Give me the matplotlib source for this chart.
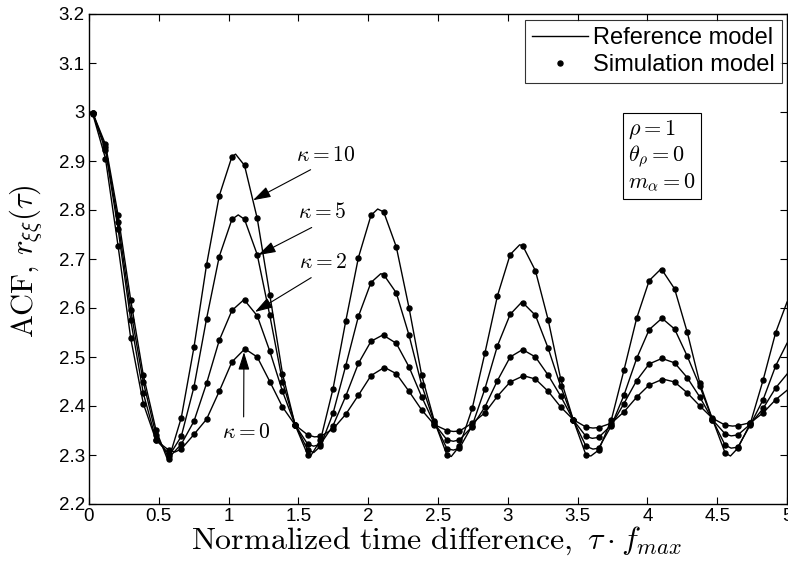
import numpy as np
import matplotlib
matplotlib.use("Agg")
import matplotlib.pyplot as plt
from matplotlib.lines import Line2D

plt.rcParams['mathtext.fontset'] = 'cm'
plt.rcParams['font.family'] = ['Liberation Sans', 'DejaVu Sans']

# ---------------- data ----------------
tau_sim = [0.027, 0.118, 0.208, 0.299, 0.389, 0.480, 0.571, 0.661, 0.752, 0.842,
           0.933, 1.024, 1.114, 1.205, 1.295, 1.386, 1.477, 1.567, 1.658, 1.748,
           1.839, 1.930, 2.020, 2.111, 2.201, 2.292, 2.383, 2.473, 2.564, 2.654,
           2.745, 2.836, 2.926, 3.017, 3.107, 3.198, 3.289, 3.379, 3.470, 3.560,
           3.651, 3.742, 3.832, 3.923, 4.013, 4.104, 4.195, 4.285, 4.376, 4.466,
           4.557, 4.648, 4.738, 4.829, 4.919]

sim_k0 = [2.996, 2.905, 2.727, 2.538, 2.405, 2.330, 2.310, 2.312, 2.342, 2.373,
          2.430, 2.490, 2.516, 2.500, 2.450, 2.398, 2.361, 2.341, 2.338, 2.353,
          2.383, 2.422, 2.462, 2.478, 2.466, 2.430, 2.392, 2.362, 2.350, 2.349,
          2.365, 2.386, 2.420, 2.449, 2.461, 2.455, 2.430, 2.398, 2.372, 2.357,
          2.356, 2.365, 2.388, 2.418, 2.443, 2.454, 2.449, 2.427, 2.400, 2.375,
          2.361, 2.360, 2.366, 2.386, 2.413]
sim_k2 = [2.997, 2.922, 2.762, 2.575, 2.426, 2.331, 2.303, 2.322, 2.369, 2.446,
          2.534, 2.595, 2.616, 2.584, 2.512, 2.430, 2.361, 2.322, 2.322, 2.360,
          2.420, 2.487, 2.532, 2.544, 2.528, 2.480, 2.419, 2.364, 2.331, 2.331,
          2.358, 2.398, 2.452, 2.500, 2.515, 2.500, 2.463, 2.420, 2.371, 2.338,
          2.336, 2.361, 2.405, 2.452, 2.486, 2.497, 2.488, 2.458, 2.418, 2.372,
          2.343, 2.341, 2.363, 2.395, 2.437]
sim_k5 = [2.998, 2.928, 2.776, 2.595, 2.449, 2.341, 2.297, 2.338, 2.439, 2.578,
          2.705, 2.781, 2.781, 2.709, 2.585, 2.450, 2.362, 2.310, 2.318, 2.385,
          2.482, 2.583, 2.652, 2.668, 2.631, 2.545, 2.443, 2.367, 2.313, 2.314,
          2.360, 2.435, 2.523, 2.587, 2.611, 2.585, 2.518, 2.440, 2.371, 2.318,
          2.314, 2.360, 2.422, 2.497, 2.556, 2.579, 2.557, 2.502, 2.440, 2.372,
          2.320, 2.316, 2.362, 2.413, 2.482]
sim_k10 = [2.998, 2.934, 2.790, 2.616, 2.463, 2.351, 2.291, 2.376, 2.520, 2.688,
           2.829, 2.909, 2.891, 2.783, 2.627, 2.466, 2.361, 2.300, 2.330, 2.435,
           2.573, 2.703, 2.789, 2.796, 2.725, 2.601, 2.463, 2.370, 2.300, 2.318,
           2.395, 2.508, 2.625, 2.709, 2.727, 2.676, 2.576, 2.455, 2.371, 2.300,
           2.310, 2.372, 2.473, 2.579, 2.656, 2.678, 2.639, 2.551, 2.446, 2.373,
           2.304, 2.314, 2.365, 2.453, 2.550]

# extra reference-model points (ends, peaks and troughs)
tau_ext_k0 = [0.0, 0.615, 1.115, 1.615, 2.115, 2.610, 3.110, 3.610, 4.110, 4.610, 5.0]
ext_k0 = [3.0, 2.306, 2.517, 2.337, 2.479, 2.348, 2.462, 2.355, 2.455, 2.359, 2.432]
tau_ext_k2 = [0.0, 0.590, 1.110, 1.610, 2.105, 2.610, 3.105, 3.605, 4.105, 4.600, 5.0]
ext_k2 = [3.0, 2.300, 2.617, 2.318, 2.545, 2.328, 2.515, 2.334, 2.497, 2.339, 2.465]
tau_ext_k5 = [0.0, 0.570, 1.069, 1.610, 2.090, 2.610, 3.100, 3.610, 4.105, 4.600, 5.0]
ext_k5 = [3.0, 2.296, 2.790, 2.305, 2.670, 2.310, 2.612, 2.312, 2.579, 2.314, 2.528]
tau_ext_k10 = [0.0, 0.565, 1.050, 1.585, 2.068, 2.595, 3.085, 3.595, 4.095, 4.595, 5.0]
ext_k10 = [3.0, 2.289, 2.914, 2.297, 2.802, 2.297, 2.729, 2.298, 2.679, 2.298, 2.612]

kappa_labels = [r'$\kappa=10$', r'$\kappa=5$', r'$\kappa=2$', r'$\kappa=0$']
arrow_heads = [(1.175, 2.820), (1.211, 2.708), (1.189, 2.592), (1.110, 2.510)]
label_pos = [(1.698, 2.912), (1.669, 2.794), (1.676, 2.692), (1.125, 2.345)]

xticks = [0, 0.5, 1, 1.5, 2, 2.5, 3, 3.5, 4, 4.5, 5]
xticklabels = ['0', '0.5', '1', '1.5', '2', '2.5', '3', '3.5', '4', '4.5', '5']
yticks = [2.2, 2.3, 2.4, 2.5, 2.6, 2.7, 2.8, 2.9, 3.0, 3.1, 3.2]
yticklabels = ['2.2', '2.3', '2.4', '2.5', '2.6', '2.7', '2.8', '2.9', '3', '3.1', '3.2']

# ---------------- figure ----------------
fig = plt.figure(figsize=(7.88, 5.62), dpi=100)
ax = fig.add_axes([89/788, 58/562, 698/788, 490/562])

curves = [(sim_k0, tau_ext_k0, ext_k0), (sim_k2, tau_ext_k2, ext_k2),
          (sim_k5, tau_ext_k5, ext_k5), (sim_k10, tau_ext_k10, ext_k10)]
for sim, te, ve in curves:
    t = np.array(tau_sim + te)
    v = np.array(sim + ve)
    order = np.argsort(t)
    ax.plot(t[order], v[order], color='black', lw=1.0, zorder=2)
    ax.plot(tau_sim, sim, linestyle='none', marker='o', ms=3.6, color='black',
            zorder=3)

ax.set_xlim(0, 5)
ax.set_ylim(2.2, 3.2)
ax.set_xticks(xticks)
ax.set_xticklabels(xticklabels)
ax.set_yticks(yticks)
ax.set_yticklabels(yticklabels)
ax.tick_params(direction='in', top=True, right=True, length=5, width=0.8,
               labelsize=13.5, pad=3)
for s in ax.spines.values():
    s.set_linewidth(1.0)

fig.text(437/788, 1 - 541/562,
         r'$\mathrm{Normalized\ time\ difference},\ \tau\cdot f_{max}$',
         fontsize=23, ha='center', va='center')
fig.text(26/788, 1 - 261/562, r'$\mathrm{ACF},\, r_{\xi\xi}(\tau)$',
         fontsize=22, ha='center', va='center', rotation=90)

# legend
handles = [Line2D([], [], color='black', lw=1.0),
           Line2D([], [], color='black', marker='o', ms=3.6, linestyle='none')]
leg = ax.legend(handles, ['Reference model', 'Simulation model'], loc='upper right',
                bbox_to_anchor=(0.9928, 0.9878), fontsize=17, frameon=True,
                fancybox=False, edgecolor='black', handlelength=2.4,
                handletextpad=0.2, borderpad=0.3, labelspacing=0.2,
                borderaxespad=0.0)
leg.get_frame().set_linewidth(0.8)

# parameter box
ax.text(0.772, 0.787, r'$\rho=1$' + '\n' + r'$\theta_\rho=0$' + '\n' + r'$m_\alpha=0$',
        transform=ax.transAxes, ha='left', va='top', fontsize=16, linespacing=1.15,
        bbox=dict(boxstyle='square,pad=0.22', facecolor='white', edgecolor='black',
                  linewidth=0.8))

# kappa annotations
for lab, head, pos, rel in zip(kappa_labels, arrow_heads, label_pos,
                               [(0.37, 0.0), (0.45, 0.0), (0.4, 0.0), (0.45, 1.0)]):
    ax.annotate(lab, xy=head, xytext=pos, ha='center', va='center', fontsize=15.5,
                arrowprops=dict(arrowstyle='-|>,head_length=0.7,head_width=0.22',
                                color='black', lw=0.8, relpos=rel,
                                shrinkA=2, shrinkB=0))

fig.savefig('out.png', dpi=100)
